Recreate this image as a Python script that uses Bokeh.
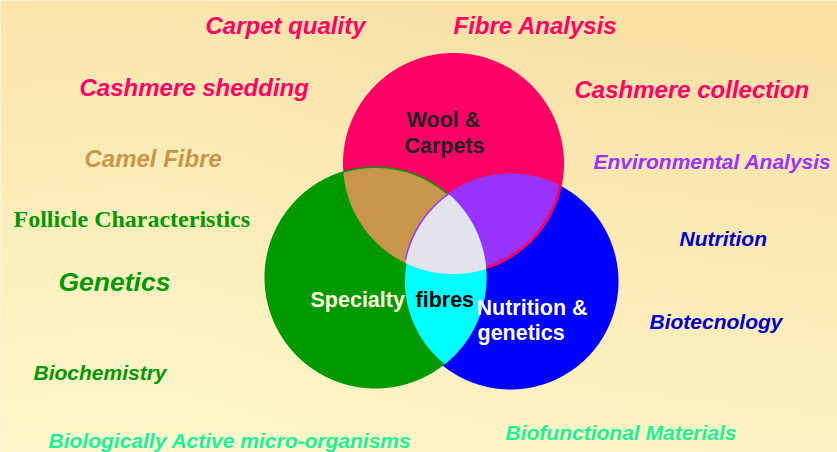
import numpy as np
from bokeh.plotting import figure
from bokeh.models import Range1d, ColumnDataSource
from bokeh.core.properties import value
from bokeh.embed import file_html
from bokeh.resources import INLINE

# ---------------- data ----------------
# the three research areas (circles of the Venn diagram)
set_names = ["Wool & Carpets", "Specialty fibres", "Nutrition & genetics"]
set_cx = [453, 375, 510]
set_cy = [163, 277, 281]
set_r = [110.5, 111, 108]
set_colors = ["#FF0066", "#009900", "#0000FF"]

# overlaps between areas (indices into the sets above)
overlap_members = [(0, 1), (0, 2), (1, 2), (0, 1, 2)]
overlap_colors = ["#C8964A", "#9933FF", "#00FFFF", "#E3E3EB"]
overlap_inset = [(0, 1.5), (3, 0), (0, 2.5), (0, 0, 1.5)]   # style: small edge insets

# labels inside the circles
inner_text = ["Wool &", "Carpets", "Specialty", "fibres", "Nutrition &", "genetics"]
inner_x = [443, 444, 310, 415, 476, 477]
inner_y = [119, 145, 299, 299, 307, 332]
inner_align = ["center", "center", "left", "left", "left", "left"]
inner_color = ["#222222", "#222222", "#FFFFDD", "#000000", "#FFFFDD", "#FFFFDD"]

# topic labels around the diagram
topic_text = ["Carpet quality", "Fibre Analysis", "Cashmere shedding", "Cashmere collection",
              "Camel Fibre", "Environmental Analysis", "Genetics", "Nutrition",
              "Biotecnology", "Biochemistry", "Biologically Active micro-organisms",
              "Biofunctional Materials"]
topic_x = [205, 453, 79, 574, 84, 593, 58, 679, 649, 33, 48, 505]
topic_y = [24.5, 24.5, 87, 88.5, 157.5, 161, 281.5, 237.5, 321, 371.5, 439.5, 431.5]
topic_color = ["#FF0066", "#FF0066", "#FF0066", "#FF0066", "#C8964A", "#9933FF",
               "#009900", "#0000CC", "#0000CC", "#009900", "#19F29A", "#19F29A"]
topic_size = ["24px", "24px", "24px", "24px", "24px", "21px", "26.5px",
              "21px", "21px", "21px", "21px", "21px"]

serif_text = ["Follicle Characteristics"]
serif_x = [13]
serif_y = [218.5]
serif_color = ["#009900"]

# ---------------- figure ----------------
W, H = 837, 452
p = figure(width=W, height=H, x_range=Range1d(0, 837), y_range=Range1d(452, 0),
           output_backend="svg", toolbar_location=None, min_border=0)
p.axis.visible = False
p.grid.visible = False
p.outline_line_color = None
p.background_fill_color = "#FCEDB9"
p.border_fill_color = "#FCEDB9"

# soft background shading
ny, nx = 113, 210
yy, xx = np.mgrid[0:ny, 0:nx]
t = 0.15 + 0.8 * (yy / ny) - 0.18 * (xx / nx) + 0.1 * np.exp(-((xx / nx - 0.2) ** 2) / 0.05)
t = np.clip(t, 0, 1)
dark = np.array([249, 224, 164])
light = np.array([255, 248, 204])
rgb = dark[None, None, :] * (1 - t[..., None]) + light[None, None, :] * t[..., None]
img = np.zeros((ny, nx), dtype=np.uint32)
view = img.view(dtype=np.uint8).reshape((ny, nx, 4))
view[..., 0] = rgb[..., 0]
view[..., 1] = rgb[..., 1]
view[..., 2] = rgb[..., 2]
view[..., 3] = 255
p.image_rgba(image=[img], x=0, y=0, dw=837, dh=452)


def circle_pts(cx, cy, r, n=720):
    a = np.linspace(0, 2 * np.pi, n, endpoint=False)
    return cx + r * np.cos(a), cy + r * np.sin(a)


# circles (blue below pink, green on top)
for i in [2, 0, 1]:
    xs, ys = circle_pts(set_cx[i], set_cy[i], set_r[i])
    p.patch(xs, ys, fill_color=set_colors[i], line_color=None)


def region(members, insets):
    px, py = [], []
    for k, i in enumerate(members):
        xs, ys = circle_pts(set_cx[i], set_cy[i], set_r[i] - insets[k], 1440)
        keep = np.ones_like(xs, dtype=bool)
        for m, j in enumerate(members):
            if j == i:
                continue
            rj = set_r[j] - insets[m]
            keep &= (xs - set_cx[j]) ** 2 + (ys - set_cy[j]) ** 2 <= rj ** 2
        px.extend(xs[keep])
        py.extend(ys[keep])
    px, py = np.array(px), np.array(py)
    mx, my = px.mean(), py.mean()
    order = np.argsort(np.arctan2(py - my, px - mx))
    return px[order], py[order]


for members, col, ins in zip(overlap_members, overlap_colors, overlap_inset):
    rx, ry = region(members, ins)
    p.patch(rx, ry, fill_color=col, line_color=None)

# inner labels
isrc = ColumnDataSource(dict(x=inner_x, y=inner_y, text=inner_text, align=inner_align, color=inner_color))
p.text(x="x", y="y", text="text", source=isrc, text_align="align", text_color="color",
       text_baseline="alphabetic", text_font=value("Liberation Sans"), text_font_style="bold",
       text_font_size="21.5px")

# topic labels
tsrc = ColumnDataSource(dict(x=topic_x, y=topic_y, text=topic_text, color=topic_color, size=topic_size))
p.text(x="x", y="y", text="text", source=tsrc, text_color="color", text_font_size="size",
       text_align="left", text_baseline="alphabetic", text_font=value("Liberation Sans"),
       text_font_style="bold italic")

ssrc = ColumnDataSource(dict(x=serif_x, y=serif_y, text=serif_text, color=serif_color))
p.text(x="x", y="y", text="text", source=ssrc, text_color="color", text_font_size="24px",
       text_align="left", text_baseline="alphabetic", text_font=value("Liberation Serif"),
       text_font_style="bold")

open("out.html", "w").write(file_html(p, INLINE))
